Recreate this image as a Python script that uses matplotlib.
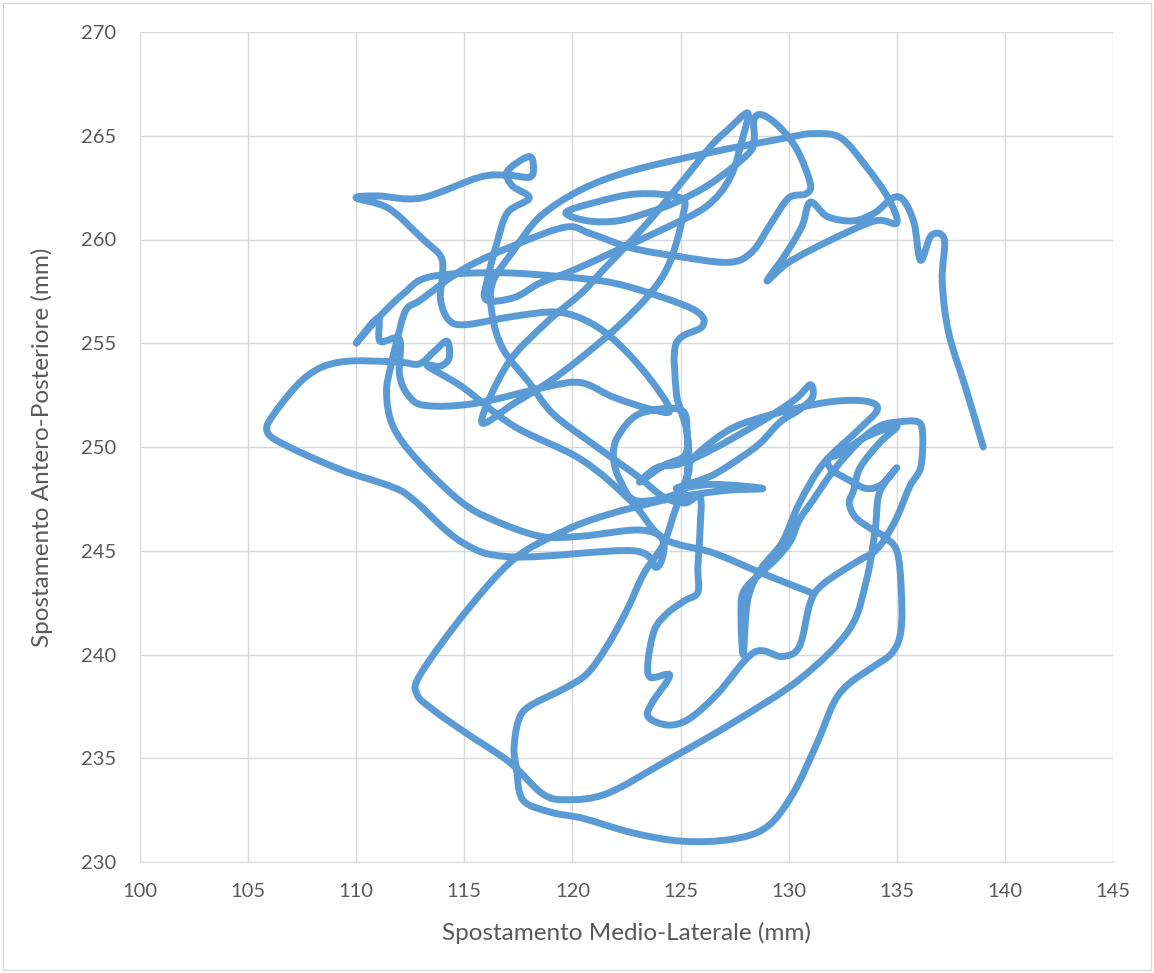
import numpy as np
import matplotlib.pyplot as plt
from matplotlib.path import Path
from matplotlib.patches import PathPatch, Rectangle

plt.rcParams['font.family'] = ['Lato', 'DejaVu Sans']

# centre of pressure track (medio-lateral mm, antero-posterior mm)
seg_tail = [(139, 250), (138.2, 252.8), (137.4, 255.5), (137.1, 258), (137.2, 260), (136.6, 260.2),
            (136.1, 259), (135.8, 260.8), (135.3, 261.9), (134.8, 262), (134, 261.3), (133, 260.9),
            (131.8, 261.1), (131, 261.8)]
seg_hook = [(130.6, 260.6), (129.8, 259.2), (129, 258), (130, 258.9), (132, 260), (134, 260.9), (135, 260.8)]
seg_arc = [(134.6, 262), (133.6, 263.5), (132.4, 264.9), (131.1, 265.1), (129.9, 264.9), (126.4, 264.2),
           (122.7, 263.3), (120.4, 262.4), (118.5, 261.1), (117.3, 259.5), (116.3, 257.9), (116.3, 256.3),
           (116.8, 254.7), (118, 253.1), (119.1, 251.6), (121, 250.1), (123, 248.6), (124.2, 247.6),
           (125.2, 247.3), (125.9, 247.6)]
seg_squiggle = [(125.9, 246), (125.8, 244.2), (125.8, 243), (125.2, 242.6), (124.4, 242), (123.8, 241.2),
                (123.5, 239.7), (123.6, 238.9),
                (124.5, 239), (123.7, 237.7), (123.5, 237), (124.4, 236.6), (125.4, 236.9), (126.7, 238.1),
                (128.4, 240.1), (129.7, 239.9), (130.5, 240.4), (131, 242.5), (131.6, 243.4), (133.2, 244.5),
                (133.9, 244.9), (134.4, 245.5), (135, 246.6), (135.6, 248.1), (136.1, 249), (136.2, 250.5),
                (136, 251.2), (135, 251.2), (134.2, 251), (133.3, 250.3), (132.1, 248.9), (131.1, 247.4),
                (130.5, 246.5), (130.1, 245.5), (129.5, 244.7), (128.7, 243.9), (127.9, 243), (127.8, 241.7),
                (127.9, 240)]
seg_thick = [(128.1, 242.6), (128.7, 244.1), (129.7, 245.4), (130.5, 247.3), (131.6, 249.2), (133.2, 250.8),
             (134.1, 251.8), (133.6, 252.2), (132.1, 252.2), (130.1, 251.8), (127.8, 251.1), (126.5, 250.3),
             (125.4, 249.2), (125.1, 247.9), (123, 247.4), (122.2, 248.4), (121.9, 249.5), (122.1, 250.5),
             (123.1, 251.6), (125, 251.8), (125.3, 250.7), (125.2, 249.6), (124.2, 249.1), (123.1, 248.3),
             (123.9, 249), (125, 249.2), (126.5, 249.9), (128.7, 251.2), (130.3, 252.3), (131, 253),
             (131.1, 252.4), (130.5, 251.8), (129.6, 251.2), (128.7, 250.2), (127.8, 249.5), (126.4, 248.6),
             (124.8, 248), (126.5, 248.2), (128.8, 248)]
seg_lower_left = [(127, 247.9), (124.5, 247.5), (121.5, 246.7), (119.5, 245.9), (117.3, 244.6), (115.1, 242.1),
                  (113, 239.1), (112.8, 238.1), (113.6, 237.3), (115.1, 236.2), (117.1, 234.8), (118.6, 233.3),
                  (119.7, 233), (121.6, 233.3), (124.4, 234.9), (127.4, 236.7), (130.5, 238.8), (132.8, 241.2),
                  (133.6, 243.6), (134, 246), (134.2, 247.8), (135, 249)]
seg_right_inner = [(134.3, 248.2), (133.6, 248), (132.8, 248.4), (132, 248.9), (131.8, 249.4), (132.4, 249.7),
                   (133.6, 250.5), (135, 251), (134.2, 250.2), (133.3, 249), (133, 247.9), (132.8, 247.3),
                   (133.1, 246.6), (133.9, 246), (134.4, 245.7), (135, 245), (135.2, 243.3), (135.2, 241.2),
                   (134.8, 240.1), (133.9, 239.4), (132.8, 238.6), (132.1, 237.7), (131.3, 235.7), (130.2, 233.3),
                   (129, 231.7), (127.4, 231.1), (125.1, 231), (122.8, 231.4), (120.5, 232.1), (119, 232.4),
                   (117.7, 233), (117.4, 234.6), (117.3, 235.5), (117.5, 236.8), (118, 237.5), (119.7, 238.4),
                   (120.7, 239.1), (121.6, 240.4), (122.5, 242.1), (123.3, 243.9), (124.2, 245.3),
                   (124.7, 246.8), (125.2, 248.3), (125.4, 249), (125.3, 250.7), (125, 251.8), (124.8, 252.7),
                   (124.8, 255), (126, 255.8)]
seg_upper_mid = [(125.8, 256.5), (124.2, 257.2), (121.9, 257.9), (119.6, 258.2), (116.5, 258.4), (113.4, 258.2),
                 (112.2, 257.4), (111, 256.2), (110, 255), (111, 256.2), (111.1, 255.1), (112, 255.2),
                 (112, 253.5), (112.4, 252.5), (113.2, 252), (115.5, 252.1), (118.8, 252.9), (120.4, 253.1),
                 (121.9, 252.4), (123.7, 251.8), (124.5, 251.8), (123.5, 253.4), (122.1, 255), (120.8, 256),
                 (119.3, 256.5), (117.3, 256.3), (115.1, 255.9), (114.3, 256.1), (113.9, 257.1), (114, 258.4),
                 (113.9, 259.2), (113.1, 260), (111.5, 261.5), (110, 262)]
seg_top_left = [(111, 262.1), (113, 262), (115.7, 263), (117, 263.1), (118, 263), (118.2, 263.4), (118, 264),
                (117, 263.3), (117.2, 262.6), (118, 262), (117, 261.3), (116.5, 259.8), (116.1, 258.2),
                (116, 257.1), (117.3, 257.2), (118.5, 257.9), (120, 258.5), (121.9, 259.4), (124.2, 260.5),
                (126.2, 261.6), (127.3, 263), (127.9, 265), (128.1, 266.1), (127.2, 265.3), (126.4, 264.5),
                (125, 262.7), (123.3, 260.6), (121.3, 258.4), (120.4, 257.4), (118.8, 256), (117, 254),
                (115.8, 251.2), (117.3, 252.1), (119, 253.2), (120.4, 254.3), (122.1, 255.8), (123.6, 257.4),
                (124.5, 258.9), (125.1, 261.1), (125, 262), (123, 262.2), (121.1, 261.8), (119.7, 261.3),
                (120.7, 260.9), (122.1, 260.9), (123.5, 261.3), (124.8, 261.8), (126.4, 262.7), (128.1, 264.1),
                (128.4, 264.8), (128.4, 265.8), (128.8, 266), (129.6, 265.4), (130.4, 264.3), (131, 262.7),
                (130.8, 262.2), (130, 262), (129.2, 260.8), (128.3, 259.4), (127.2, 258.9), (124.8, 259.2),
                (122.7, 259.6), (120.8, 260.3), (119.7, 260.6), (117.5, 259.8), (115, 258.6), (113, 257.1),
                (112.3, 256.6), (111.9, 255.2), (111.6, 253.9), (111.4, 252.6), (111.7, 251), (112.8, 249.4),
                (114.8, 247.4), (116.3, 246.5), (118.5, 245.7), (120.4, 245.7), (123.1, 246), (124.2, 245.5)]
seg_end = [(123.9, 244.2), (122.8, 245), (117.3, 244.7), (114.9, 245.4), (112.6, 247.5), (111.6, 248.1),
           (109.3, 248.9), (106.9, 250), (105.9, 250.7), (106.2, 251.6), (107.7, 253.4), (109.3, 254.1),
           (111.9, 254.1), (112.9, 254), (113.6, 254.6), (114.2, 255.1), (114.3, 254.3), (113.9, 253.9),
           (113.3, 253.9), (114.9, 252.9), (117.3, 251), (120.4, 249.4), (122.7, 247.4), (124.2, 245.6),
           (126.5, 244.9), (128.8, 243.9), (131, 243)]

track = (seg_tail + seg_hook + seg_arc + seg_squiggle + seg_thick + seg_lower_left
         + seg_right_inner + seg_upper_mid + seg_top_left + seg_end)


def smooth_path(pts):
    # Excel-like smoothed scatter line: cubic bezier through every point
    pts = np.asarray(pts, float)
    n = len(pts)
    verts = [pts[0]]
    codes = [Path.MOVETO]
    for i in range(n - 1):
        p0 = pts[i - 1] if i > 0 else pts[i]
        p1 = pts[i]
        p2 = pts[i + 1]
        p3 = pts[i + 2] if i + 2 < n else pts[i + 1]
        verts += [p1 + (p2 - p0) / 6, p2 - (p3 - p1) / 6, p2]
        codes += [Path.CURVE4] * 3
    return Path(verts, codes)


W, H = 1154, 973
fig = plt.figure(figsize=(W / 100, H / 100), dpi=100)
ax = fig.add_axes([140 / W, 1 - 862 / H, (1113 - 140) / W, (862 - 32) / H])

ax.add_patch(PathPatch(smooth_path(track), fill=False, edgecolor='#5B9BD5', lw=5.0,
                       capstyle='round', joinstyle='round', zorder=3))

ax.set_xlim(100, 145)
ax.set_ylim(230, 270)
ax.set_xticks(np.arange(100, 146, 5))
ax.set_yticks(np.arange(230, 271, 5))
ax.grid(True, color='#D9D9D9', lw=1)
ax.set_axisbelow(True)
for s in ['top', 'right', 'left']:
    ax.spines[s].set_visible(False)
ax.spines['bottom'].set_color('#D9D9D9')
ax.tick_params(length=0, labelsize=14.5, colors='#595959', pad=15)
ax.tick_params(axis='y', pad=17)

ax.set_xlabel('Spostamento Medio-Laterale (mm)', fontsize=17.5, color='#595959', labelpad=16)
ax.set_ylabel('Spostamento Antero-Posteriore (mm)', fontsize=17.5, color='#595959', labelpad=20)

fig.patches.append(Rectangle((3 / W, 3 / H), 1 - 6 / W, 1 - 6 / H, transform=fig.transFigure,
                             fill=False, edgecolor='#D9D9D9', lw=1))

fig.savefig('out.png', dpi=100)
